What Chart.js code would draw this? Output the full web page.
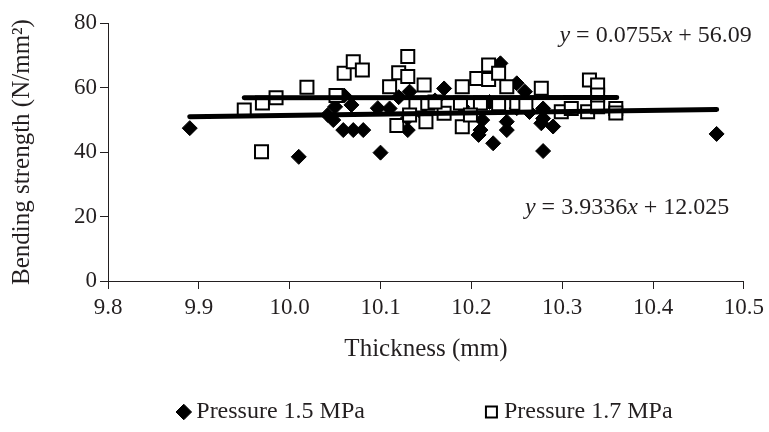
<!DOCTYPE html>
<html>
<head>
<meta charset="utf-8">
<script src="https://cdn.jsdelivr.net/npm/chart.js@4.4.0/dist/chart.umd.min.js"></script>
<style>
html,body{margin:0;padding:0;background:#fff;}
canvas{display:block;}
</style>
</head>
<body>
<canvas id="c" width="769" height="432"></canvas>
<script>
const FONT = '"Liberation Serif", "DejaVu Serif", serif';
const INK = '#231f20';
const LEGEND_SIZE = 24;
const LEGEND_PAD = 126;

// ---- data ----
const seriesNames = ['Pressure 1.5 MPa', 'Pressure 1.7 MPa'];
const xTickValues = [9.8, 9.9, 10.0, 10.1, 10.2, 10.3, 10.4, 10.5];
const xTickLabels = ['9.8', '9.9', '10.0', '10.1', '10.2', '10.3', '10.4', '10.5'];
const yTickValues = [0, 20, 40, 60, 80];
const yTickLabels = ['0', '20', '40', '60', '80'];

// Pressure 1.5 MPa (diamonds)
const thick15 = [9.890, 10.010, 10.100, 10.059, 10.070, 10.081, 10.048, 10.050, 10.068, 10.097,
                 10.130, 10.132, 10.144, 10.170, 10.250, 10.259, 10.210, 10.208, 10.224, 10.239,
                 10.239, 10.279, 10.277, 10.279, 10.279, 10.290, 10.470, 10.232, 10.042, 10.110,
                 10.130, 10.212, 10.250, 10.264, 10.160, 10.190, 10.220, 10.120, 10.060];
const bend15  = [47.4, 38.5, 39.8, 46.8, 46.8, 46.8, 49.9, 54.0, 54.6, 53.6,
                 46.8, 58.7, 52.5, 59.7, 61.3, 58.7, 46.8, 45.3, 42.7, 49.4,
                 46.8, 40.3, 48.9, 53.5, 50.4, 47.9, 45.6, 67.5, 51.5, 53.5,
                 50.5, 49.9, 53.6, 52.4, 56.0, 54.0, 55.5, 57.0, 57.5];

// Pressure 1.7 MPa (squares)
const thick17 = [9.950, 9.970, 9.985, 9.969, 10.019, 10.051, 10.060, 10.070, 10.080, 10.110,
                 10.120, 10.130, 10.130, 10.139, 10.118, 10.148, 10.132, 10.150, 10.170, 10.190,
                 10.190, 10.206, 10.219, 10.219, 10.230, 10.239, 10.250, 10.277, 10.152, 10.188,
                 10.210, 10.299, 10.310, 10.330, 10.339, 10.328, 10.339, 10.359, 10.359, 10.339,
                 10.160, 10.230, 10.260, 10.199];
const bend17  = [53.0, 55.2, 56.8, 40.1, 60.1, 57.5, 64.4, 68.0, 65.4, 60.2,
                 64.6, 69.6, 63.4, 54.6, 48.2, 60.8, 51.5, 49.4, 52.0, 60.2,
                 47.8, 62.8, 67.0, 62.5, 64.4, 60.2, 55.1, 59.8, 55.1, 55.2,
                 55.2, 52.5, 53.5, 62.3, 60.8, 52.5, 54.0, 53.5, 52.1, 57.7,
                 55.5, 55.0, 54.5, 51.5];

// trend line end points (as drawn)
const trend15X = [9.89, 10.47];
const trend15Y = [50.93, 53.21];
const trend17X = [9.95, 10.36];
const trend17Y = [56.84, 56.87];

// equation labels: [text, italic]
const eq17Parts = [['y', true], [' = 0.0755', false], ['x', true], [' + 56.09', false]];
const eq15Parts = [['y', true], [' = 3.9336', false], ['x', true], [' + 12.025', false]];
const eq17Anchor = [10.297, 76.0];
const eq15Anchor = [10.259, 22.6];

const toPts = (xs, ys) => xs.map((v, i) => ({x: v, y: ys[i]}));

const eqPlugin = {
  id: 'eqLabels',
  afterDatasetsDraw(chart) {
    const {ctx, scales: {x, y}} = chart;
    const draw = (parts, anchor) => {
      let px = x.getPixelForValue(anchor[0]);
      const py = y.getPixelForValue(anchor[1]);
      ctx.save();
      ctx.fillStyle = INK;
      ctx.textBaseline = 'middle';
      ctx.textAlign = 'left';
      parts.forEach(([t, it]) => {
        ctx.font = (it ? 'italic ' : '') + '24px ' + FONT;
        ctx.fillText(t, px, py);
        px += ctx.measureText(t).width;
      });
      ctx.restore();
    };
    draw(eq17Parts, eq17Anchor);
    draw(eq15Parts, eq15Anchor);
  }
};

// centre the legend row under the plot area and place it near the bottom
const legendPlace = {
  id: 'legendPlace',
  afterLayout(chart) {
    const lg = chart.legend;
    if (!lg) return;
    const lw = (lg.lineWidths && lg.lineWidths[0]) ? lg.lineWidths[0] : 640;
    const total = lw - LEGEND_PAD;
    const ca = chart.chartArea;
    const start = (ca.left + ca.right) / 2 - total / 2 + 2;
    lg.left = start - LEGEND_PAD;
    lg.right = lg.left + 2000;
    lg.width = lg.right - lg.left;
    const cy = chart.height - 20;
    lg.top = cy - LEGEND_PAD - LEGEND_SIZE / 2;
    lg.bottom = chart.height;
    lg.height = lg.bottom - lg.top;
  }
};

new Chart(document.getElementById('c'), {
  type: 'scatter',
  data: {
    datasets: [
      {
        label: seriesNames[0],
        data: toPts(thick15, bend15),
        pointStyle: 'rectRot',
        pointRadius: 7.5,
        pointHoverRadius: 7.5,
        backgroundColor: '#000',
        borderColor: '#000',
        borderWidth: 1,
        order: 2
      },
      {
        label: seriesNames[1],
        data: toPts(thick17, bend17),
        pointStyle: 'rect',
        pointRadius: 9.2,
        pointHoverRadius: 9.2,
        backgroundColor: '#fff',
        borderColor: '#000',
        borderWidth: 2,
        order: 1
      },
      {
        label: 'trend15',
        data: toPts(trend15X, trend15Y),
        showLine: true,
        pointRadius: 0,
        borderColor: '#000',
        borderWidth: 5,
        borderCapStyle: 'round',
        fill: false,
        order: 0
      },
      {
        label: 'trend17',
        data: toPts(trend17X, trend17Y),
        showLine: true,
        pointRadius: 0,
        borderColor: '#000',
        borderWidth: 5,
        borderCapStyle: 'round',
        fill: false,
        order: 0
      }
    ]
  },
  options: {
    responsive: false,
    animation: false,
    devicePixelRatio: 1,
    events: [],
    layout: { padding: { left: 0, right: 20, top: 23, bottom: 0 } },
    scales: {
      x: {
        type: 'linear',
        min: 9.8,
        max: 10.5,
        afterBuildTicks: (s) => { s.ticks = xTickValues.map(v => ({value: v})); },
        afterFit: (s) => { s.height = 111; },
        border: { display: true, color: INK, width: 1 },
        grid: { display: true, drawOnChartArea: false, drawTicks: true, tickLength: 8, tickColor: INK, tickWidth: 1 },
        ticks: {
          color: INK,
          font: { family: FONT, size: 23 },
          padding: 5,
          maxRotation: 0,
          autoSkip: false,
          callback: (v, i) => xTickLabels[i]
        },
        title: {
          display: true,
          text: 'Thickness (mm)',
          color: INK,
          font: { family: FONT, size: 25 },
          padding: { top: 0, bottom: 28 }
        }
      },
      y: {
        type: 'linear',
        min: 0,
        max: 80,
        afterBuildTicks: (s) => { s.ticks = yTickValues.map(v => ({value: v})); },
        afterFit: (s) => { s.width = 108; },
        border: { display: true, color: INK, width: 1 },
        grid: { display: true, drawOnChartArea: false, drawTicks: true, tickLength: 8, tickColor: INK, tickWidth: 1 },
        ticks: {
          color: INK,
          font: { family: FONT, size: 23 },
          padding: 3,
          callback: (v, i) => yTickLabels[i]
        },
        title: {
          display: true,
          text: 'Bending strength (N/mm²)',
          color: INK,
          font: { family: FONT, size: 25 },
          padding: { top: 7, bottom: 0 }
        }
      }
    },
    plugins: {
      tooltip: { enabled: false },
      legend: {
        display: true,
        position: 'bottom',
        align: 'start',
        maxHeight: 40,
        labels: {
          usePointStyle: true,
          boxWidth: 1,
          boxHeight: 11,
          padding: LEGEND_PAD,
          color: INK,
          font: { family: FONT, size: LEGEND_SIZE },
          filter: (item) => item.datasetIndex < 2,
          sort: (a, b) => a.datasetIndex - b.datasetIndex
        }
      }
    }
  },
  plugins: [eqPlugin, legendPlace]
});
</script>
</body>
</html>
